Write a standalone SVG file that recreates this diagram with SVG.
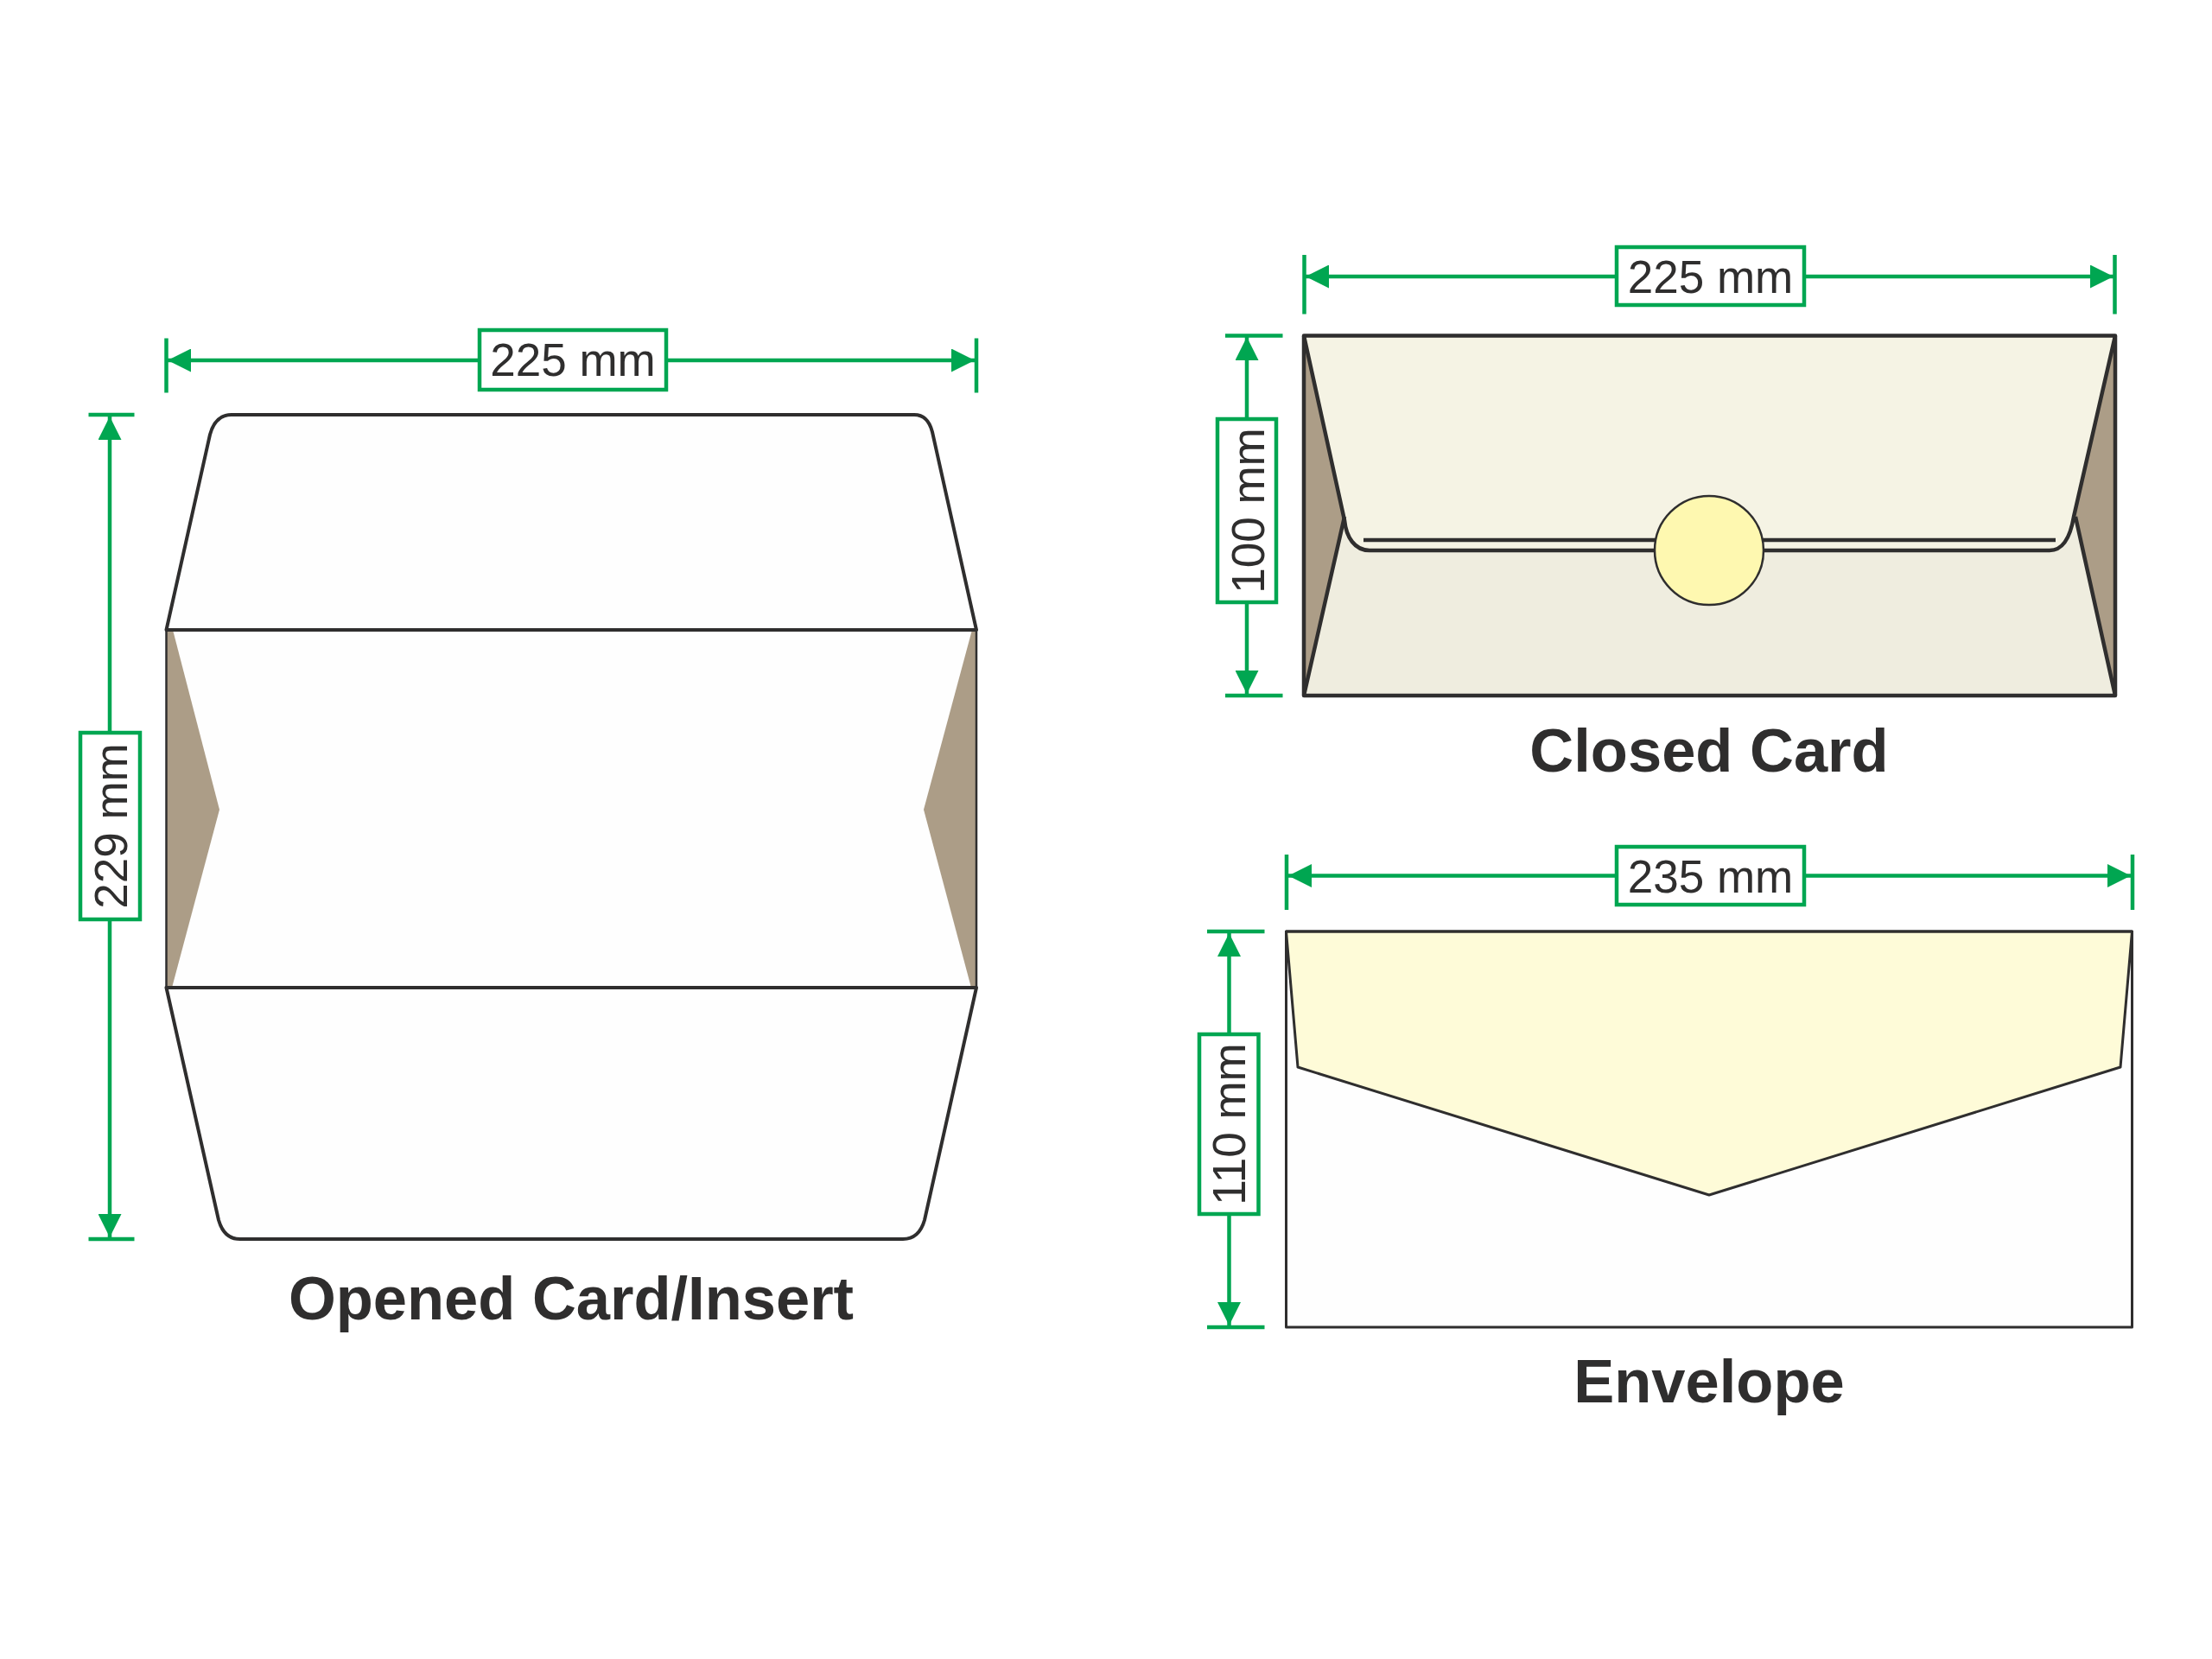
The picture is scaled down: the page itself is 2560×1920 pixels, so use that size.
<svg xmlns="http://www.w3.org/2000/svg" width="2560" height="1920" viewBox="0 0 2560 1920">
<style>
.dim{fill:none;stroke:#00a651;stroke-width:4.500}
.arr{fill:none;stroke:#00a651;stroke-width:4.500;marker-end:url(#head)}
.box{fill:#fff;stroke:#00a651;stroke-width:4.500}
.lab{font-family:"Liberation Sans",Arial,sans-serif;font-size:53px;fill:#2f2e2e;text-anchor:middle}
.title{font-family:"Liberation Sans",Arial,sans-serif;font-size:70.500px;font-weight:bold;fill:#2f2e2e;text-anchor:middle}
.ink{fill:none;stroke:#2f2e2e;stroke-linejoin:round}
.tan{fill:#ac9d87}
</style>
<defs>
<marker id="head" markerUnits="userSpaceOnUse" viewBox="0 0 27 27" markerWidth="27" markerHeight="27" refX="27" refY="13.500" orient="auto"><path d="M0 0L27 13.500L0 27Z" fill="#00a651"/></marker>
</defs>
<rect width="2560" height="1920" fill="#fff"/>
<g id="opened-card">
<path d="M192.500 729L243 503C247 488 255 480 268 480H1058C1069 480 1076 488 1079 500L1130 729V1143L1070 1412C1066 1426 1058 1434 1045 1434H278C265 1434 257 1426 253 1412L192.500 1143Z" fill="#fefefe"/>
<polygon class="tan" points="192,729 200,729 254,937 199,1143 192,1143"/>
<polygon class="tan" points="1130,729 1125,729 1069,937 1124,1143 1130,1143"/>
<path class="ink" stroke-width="2.500" d="M192.500 729V1143M1130 729V1143"/>
<path class="ink" stroke-width="4" d="M192.500 729L243 503C247 488 255 480 268 480H1058C1069 480 1076 488 1079 500L1130 729ZM192.500 1143H1130L1070 1412C1066 1426 1058 1434 1045 1434H278C265 1434 257 1426 253 1412Z"/>
</g>
<g id="closed-card">
<rect x="1509" y="388.500" width="939" height="416.500" fill="#ac9d87"/>
<path d="M1509 805L1556 600L1585 637H2372L2402 598L2448 805Z" fill="#efeddf"/>
<path d="M1509 388.500H2448L2400 598C2396 622 2388 637 2372 637H1585C1568 637 1558 622 1556 602Z" fill="#f5f3e4"/>
<path class="ink" stroke-width="4.500" d="M1509 805L1556 598M2448 805L2402 598"/>
<path class="ink" stroke-width="4.500" d="M1509 388.500L1556 602C1558 622 1568 637 1585 637H2372C2388 637 2396 622 2400 598L2448 388.500"/>
<path class="ink" stroke-width="4.500" d="M1578 625H2379"/>
<rect class="ink" stroke-width="4.500" x="1509" y="388.500" width="939" height="416.500"/>
<circle cx="1978" cy="637" r="63" fill="#fef8b0" stroke="#2f2e2e" stroke-width="2.500"/>
</g>
<g id="envelope">
<rect x="1488.500" y="1078" width="979" height="458" fill="#fefefe"/>
<polygon points="1488.500,1078 1502,1235 1978,1383 2454,1235 2467.500,1078" fill="#fefbd8" stroke="#2f2e2e" stroke-width="3" stroke-linejoin="round"/>
<rect class="ink" stroke-width="3" x="1488.500" y="1078" width="979" height="458"/>
</g>
<g id="connectors">
<path class="dim" d="M192.500 391.500V454.500M1130 391.500V454.500M102.500 480H155.500M102.500 1434H155.500"/>
<line class="arr" x1="555" y1="417" x2="194" y2="417"/>
<line class="arr" x1="771" y1="417" x2="1128" y2="417"/>
<line class="arr" x1="127" y1="848" x2="127" y2="482"/>
<line class="arr" x1="127" y1="1064" x2="127" y2="1432"/>
<path class="dim" d="M1509.500 295V363.500M2447.500 295V363.500M1418 388.500H1484.500M1418 805H1484.500"/>
<line class="arr" x1="1871" y1="320" x2="1511" y2="320"/>
<line class="arr" x1="2088" y1="320" x2="2446" y2="320"/>
<line class="arr" x1="1443" y1="485" x2="1443" y2="390"/>
<line class="arr" x1="1443" y1="697" x2="1443" y2="803"/>
<path class="dim" d="M1489 989V1053M2468 989V1053M1397 1078H1463.500M1397 1536H1463.500"/>
<line class="arr" x1="1871" y1="1013.500" x2="1491" y2="1013.500"/>
<line class="arr" x1="2088" y1="1013.500" x2="2466" y2="1013.500"/>
<line class="arr" x1="1422.500" y1="1197" x2="1422.500" y2="1080"/>
<line class="arr" x1="1422.500" y1="1405" x2="1422.500" y2="1534"/>
</g>
<g id="label-opened-width"><rect class="box" x="555" y="382" width="216" height="69"/><text class="lab" x="663" y="435">225 mm</text></g>
<g id="label-opened-height"><rect class="box" x="93" y="848" width="69" height="216"/><text class="lab" transform="translate(147 956) rotate(-90)">229 mm</text></g>
<g id="label-closed-width"><rect class="box" x="1871" y="286" width="217" height="67"/><text class="lab" x="1979.500" y="338.500">225 mm</text></g>
<g id="label-closed-height"><rect class="box" x="1409" y="485" width="68" height="212"/><text class="lab" transform="translate(1462.500 591) rotate(-90)">100 mm</text></g>
<g id="label-envelope-width"><rect class="box" x="1871" y="980" width="217" height="67"/><text class="lab" x="1979.500" y="1033">235 mm</text></g>
<g id="label-envelope-height"><rect class="box" x="1388" y="1197" width="68.500" height="208"/><text class="lab" transform="translate(1441 1301) rotate(-90)">110 mm</text></g>
<g id="titles">
<text class="title" x="661" y="1527">Opened Card/Insert</text>
<text class="title" x="1978" y="893">Closed Card</text>
<text class="title" x="1978" y="1623">Envelope</text>
</g>
</svg>
